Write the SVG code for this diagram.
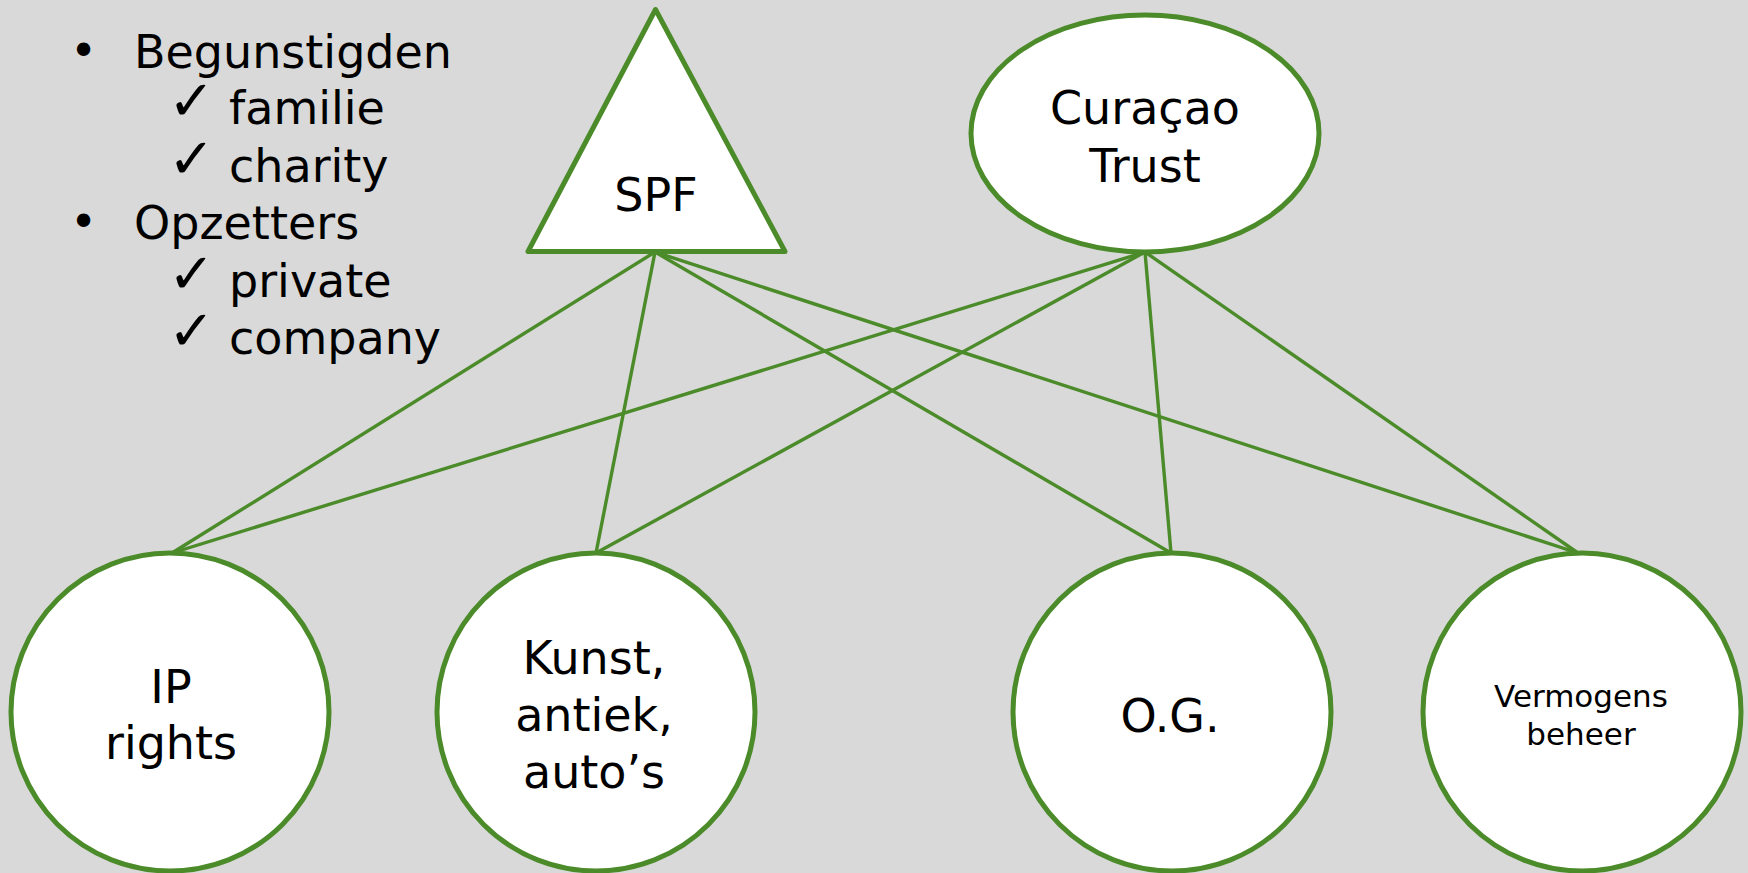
<svg xmlns="http://www.w3.org/2000/svg" width="1748" height="873" viewBox="0 0 1748 873">
<style>
.bg{fill:#d9d9d9}
.shape{fill:#ffffff;stroke:#4b8b29;stroke-width:5}
.conn line{stroke:#4b8b29;stroke-width:3.4;fill:none}
text{font-family:"DejaVu Sans","Verdana",sans-serif;fill:#000000}
.lbl{font-size:46px;text-anchor:middle}
.sm{font-size:31px;text-anchor:middle}
.lst{font-size:46px}
.chk{font-size:56px}
</style>
<rect class="bg" x="0" y="0" width="1748" height="873"/>
<g id="list">
<text class="lst" x="70" y="67">•</text>
<text class="lst" x="134" y="68">Begunstigden</text>
<text class="chk" x="168" y="120">✓</text>
<text class="lst" x="229" y="124">familie</text>
<text class="chk" x="168" y="178">✓</text>
<text class="lst" x="229" y="182">charity</text>
<text class="lst" x="70" y="238">•</text>
<text class="lst" x="134" y="239">Opzetters</text>
<text class="chk" x="168" y="293">✓</text>
<text class="lst" x="229" y="297">private</text>
<text class="chk" x="168" y="350">✓</text>
<text class="lst" x="229" y="354">company</text>
</g>
<g class="conn" id="connectors">
<line x1="655" y1="252" x2="172" y2="553"/>
<line x1="655" y1="252" x2="596" y2="553"/>
<line x1="655" y1="252" x2="1171" y2="553"/>
<line x1="655" y1="252" x2="1578" y2="553"/>
<line x1="1145" y1="252" x2="172" y2="553"/>
<line x1="1145" y1="252" x2="596" y2="553"/>
<line x1="1145" y1="252" x2="1171" y2="553"/>
<line x1="1145" y1="252" x2="1578" y2="553"/>
</g>
<g id="spf">
<polygon class="shape" points="655.5,9.5 528,251.5 785,251.5" stroke-linejoin="round"/>
<text class="lbl" x="656" y="211">SPF</text>
</g>
<g id="curacao-trust">
<ellipse class="shape" cx="1145" cy="133.5" rx="174" ry="118.5"/>
<text class="lbl" x="1145" y="124">Curaçao</text>
<text class="lbl" x="1145" y="182">Trust</text>
</g>
<g id="ip-rights">
<circle class="shape" cx="170" cy="712" r="159"/>
<text class="lbl" x="171" y="703">IP</text>
<text class="lbl" x="171" y="759">rights</text>
</g>
<g id="kunst">
<circle class="shape" cx="596" cy="712" r="159"/>
<text class="lbl" x="594" y="674">Kunst,</text>
<text class="lbl" x="594" y="731">antiek,</text>
<text class="lbl" x="594" y="788">auto’s</text>
</g>
<g id="og">
<circle class="shape" cx="1172" cy="712" r="159"/>
<text class="lbl" x="1170" y="732">O.G.</text>
</g>
<g id="vermogensbeheer">
<circle class="shape" cx="1582" cy="712" r="159"/>
<text class="sm" x="1581" y="707">Vermogens</text>
<text class="sm" x="1581" y="745">beheer</text>
</g>
</svg>
